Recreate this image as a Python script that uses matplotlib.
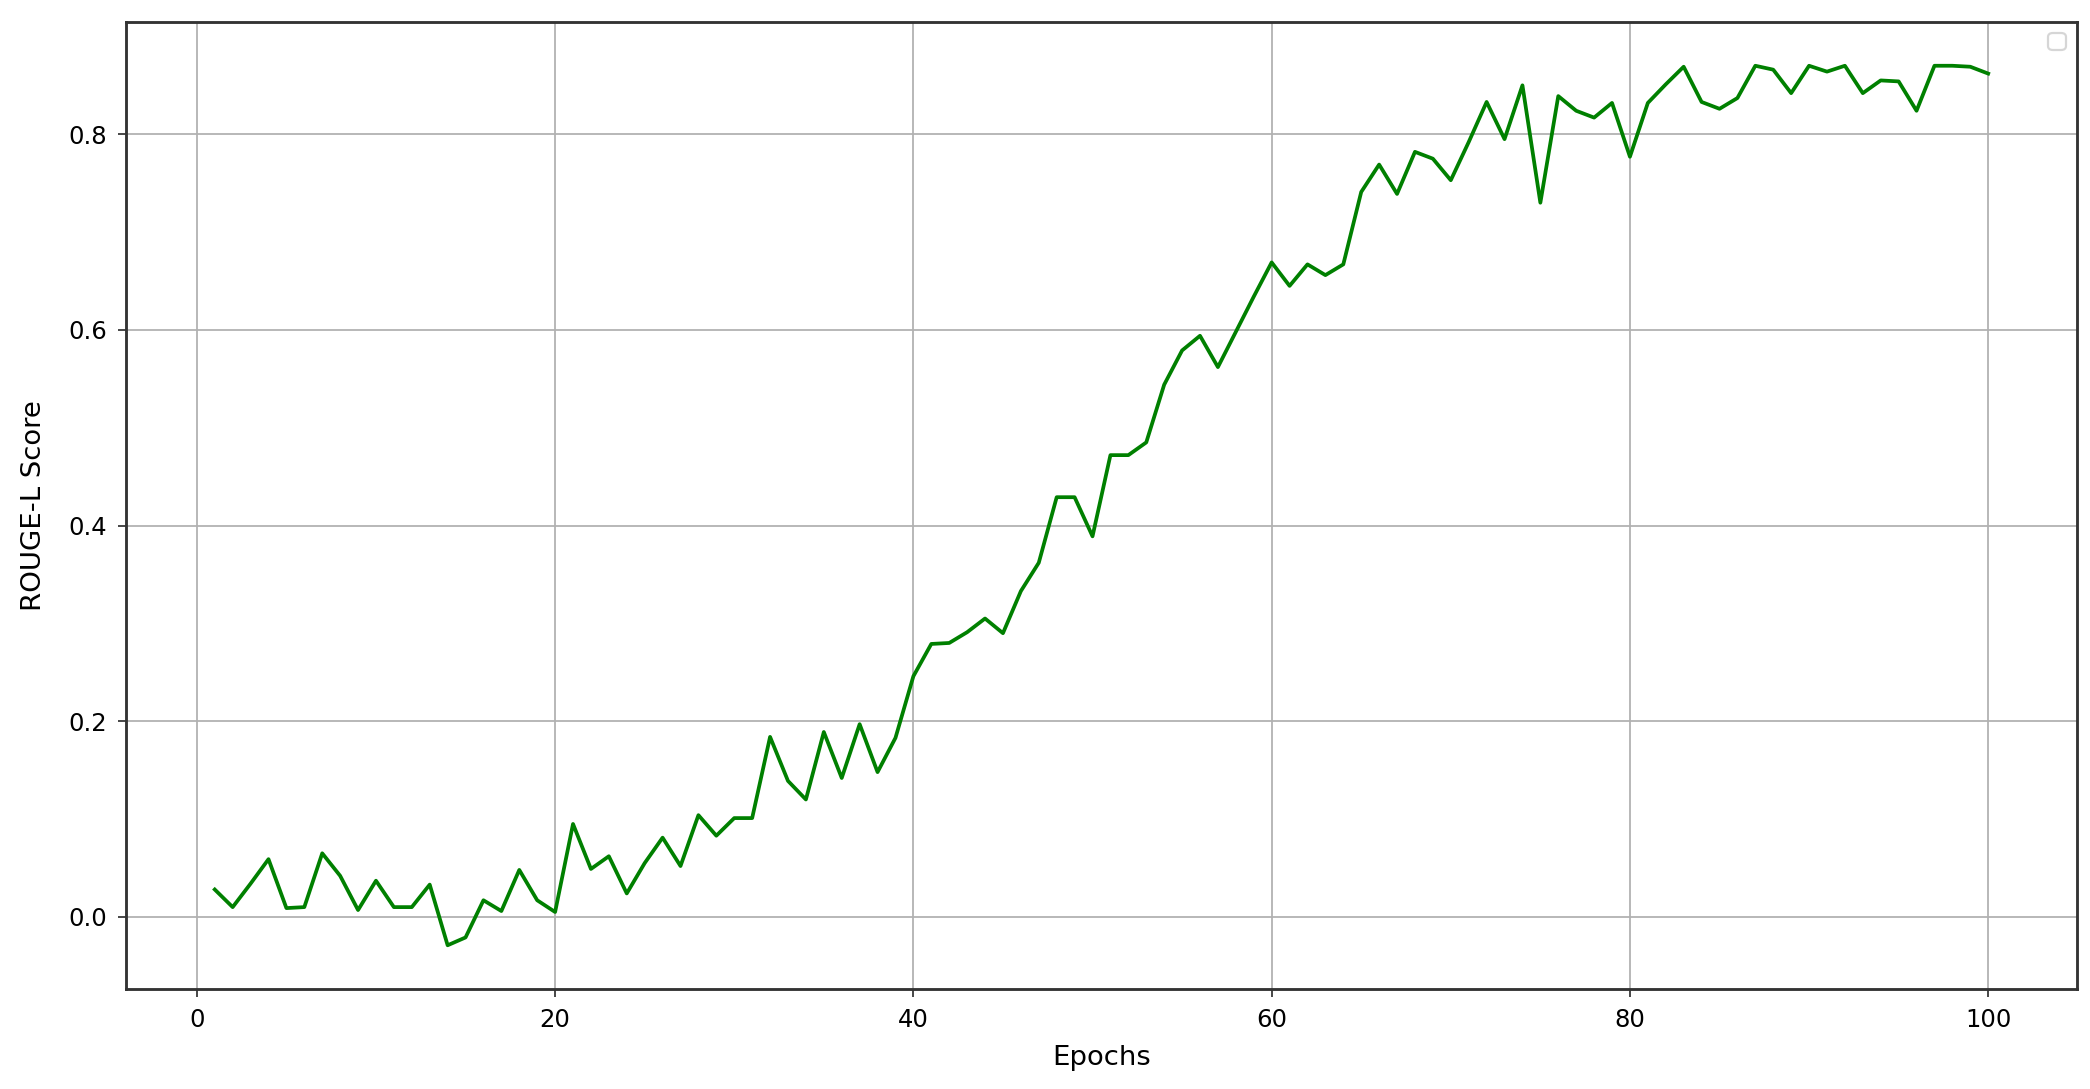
import matplotlib.pyplot as plt
import numpy as np

# ROUGE-L score per training epoch
epochs = np.arange(1, 101)
rouge_l = [
    0.028, 0.010, 0.034, 0.059, 0.009, 0.010, 0.065, 0.042, 0.007, 0.037,
    0.010, 0.010, 0.033, -0.029, -0.021, 0.017, 0.006, 0.048, 0.017, 0.005,
    0.095, 0.049, 0.062, 0.024, 0.055, 0.081, 0.052, 0.104, 0.083, 0.101,
    0.101, 0.184, 0.139, 0.120, 0.189, 0.142, 0.197, 0.148, 0.183, 0.246,
    0.279, 0.280, 0.291, 0.305, 0.290, 0.333, 0.362, 0.429, 0.429, 0.389,
    0.472, 0.472, 0.485, 0.544, 0.579, 0.594, 0.562, 0.598, 0.634, 0.669,
    0.645, 0.667, 0.656, 0.667, 0.741, 0.769, 0.739, 0.782, 0.775, 0.753,
    0.792, 0.833, 0.795, 0.850, 0.730, 0.839, 0.824, 0.817, 0.832, 0.777,
    0.832, 0.851, 0.869, 0.833, 0.826, 0.837, 0.870, 0.866, 0.842, 0.870,
    0.864, 0.870, 0.842, 0.855, 0.854, 0.824, 0.870, 0.870, 0.869, 0.862,
]

fig = plt.figure(figsize=(13.2, 6.875), dpi=158.4)
ax = fig.add_axes([0.0603, 0.0916, 0.933, 0.8884])
ax.plot(epochs, rouge_l, color='green', linewidth=1.7)
ax.set_xlabel('Epochs', fontsize=12.5, labelpad=6)
ax.set_ylabel('ROUGE-L Score', fontsize=12.5, labelpad=10)
ax.tick_params(labelsize=11, pad=5, color='#333333')
for s in ax.spines.values():
    s.set_linewidth(1.3)
    s.set_color('#333333')
ax.grid(True)
ax.legend()
fig.savefig('out.png', dpi=158.4)
